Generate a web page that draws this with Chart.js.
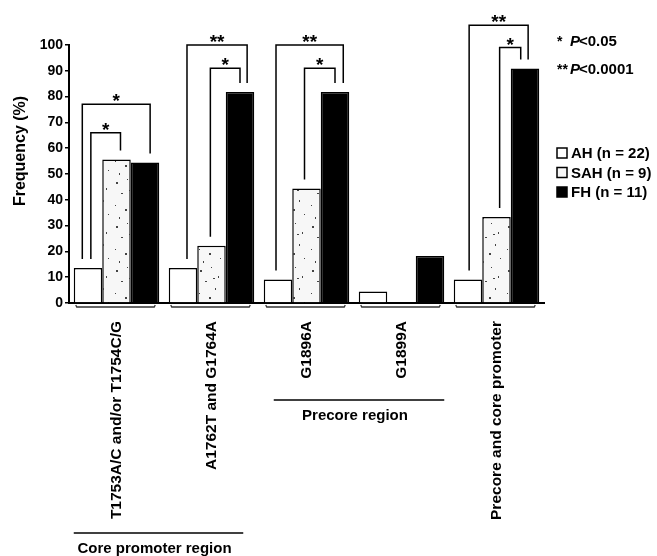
<!DOCTYPE html>
<html>
<head>
<meta charset="utf-8">
<title>Frequency of mutations</title>
<script src="https://cdn.jsdelivr.net/npm/chart.js@4.4.1/dist/chart.umd.min.js"></script>
<style>
  html, body { margin: 0; padding: 0; background: #fff; }
  #wrap { width: 657px; height: 556px; }
</style>
</head>
<body>
<div id="wrap"><canvas id="myChart" width="657" height="556"></canvas></div>
<script>
// data
var categories = ['T1753A/C and/or T1754C/G', 'A1762T and G1764A', 'G1896A', 'G1899A', 'Precore and core promoter'];
var seriesNames = ['AH (n = 22)', 'SAH (n = 9)', 'FH (n = 11)'];
var ahValues = [13.6, 13.6, 9.1, 4.5, 9.1];
var sahValues = [55.6, 22.2, 44.4, 0, 33.3];
var fhValues = [54.5, 81.8, 81.8, 18.2, 90.9];
var yTicks = [0, 10, 20, 30, 40, 50, 60, 70, 80, 90, 100];

// significance brackets: category, from series, to series, mark, height of the bracket
var compCategory = [0, 0, 1, 1, 2, 2, 4, 4];
var compFrom = [0, 0, 0, 1, 0, 1, 0, 1];
var compTo = [2, 1, 2, 2, 2, 2, 2, 2];
var compMark = ['*', '*', '**', '*', '**', '*', '**', '*'];
var compTop = [77, 66, 100, 91, 100, 91, 107.7, 99];

var pLabels = ['0.05', '0.0001'];
var pMarks = ['*', '**'];
var regionNames = ['Core promoter region', 'Precore region'];
var regionFirst = [0, 2];
var regionLast = [1, 3];

var FONT = "'Liberation Sans', Arial, sans-serif";

// speckled fill for SAH
function speckle() {
  var c = document.createElement('canvas');
  c.width = 28; c.height = 44;
  var g = c.getContext('2d');
  g.fillStyle = '#f7f7f7';
  g.fillRect(0, 0, 28, 44);
  g.fillStyle = '#444';
  var dots = [[4, 6], [15, 3], [22, 12], [9, 17], [19, 24], [3, 29], [13, 33], [24, 38], [7, 41], [17, 14]];
  dots.forEach(function (d, i) { g.fillRect(d[0], d[1], i % 3 === 0 ? 2 : 1, i % 2 === 0 ? 2 : 1); });
  return g.createPattern(c, 'repeat');
}
var sahFill = speckle();

// where the legs of each bracket sit inside the bars (fraction of bar width)
var legFromFrac = [0.3, 0.6, 0.64, 0.46, 0.43, 0.43, 0.54, 0.61];
var legToFrac = [0.68, 0.64, 0.75, 0.5, 0.79, 0.5, 0.61, 0.35];

var extras = {
  id: 'extras',
  afterDatasetsDraw: function (chart) {
    var ctx = chart.ctx;
    var y = chart.scales.y;
    var area = chart.chartArea;
    var bar = function (s, c) { return chart.getDatasetMeta(s).data[c].getProps(['x', 'y', 'width'], true); };
    ctx.save();
    ctx.strokeStyle = '#000';
    ctx.fillStyle = '#000';
    ctx.lineWidth = 1.5;

    // brackets
    for (var i = 0; i < compCategory.length; i++) {
      var c = compCategory[i];
      var a = bar(compFrom[i], c), b = bar(compTo[i], c);
      var xa = a.x - a.width / 2 + a.width * legFromFrac[i];
      var xb = b.x - b.width / 2 + b.width * legToFrac[i];
      var top = y.getPixelForValue(compTop[i]);
      ctx.beginPath();
      ctx.moveTo(xa, a.y - 9);
      ctx.lineTo(xa, top);
      ctx.lineTo(xb, top);
      ctx.lineTo(xb, b.y - 9);
      ctx.stroke();
      ctx.font = 'bold 19px ' + FONT;
      ctx.textAlign = 'center';
      ctx.textBaseline = 'alphabetic';
      ctx.fillText(compMark[i], (xa + xb) / 2, top + 3);
    }

    // thin underline below each group
    ctx.strokeStyle = '#333';
    ctx.lineWidth = 1.3;
    for (var k = 0; k < categories.length; k++) {
      var l = bar(0, k), r = bar(2, k);
      var x0 = l.x - l.width / 2 + 2, x1 = r.x + r.width / 2 - 4;
      var yy = area.bottom + 4;
      ctx.beginPath();
      ctx.moveTo(x0, yy - 2); ctx.lineTo(x0 + 1, yy); ctx.lineTo(x1 - 1, yy); ctx.lineTo(x1, yy - 2);
      ctx.stroke();
    }

    // region brackets
    var regionY = [533, 400];
    var regionInset = [[0, 11], [10, 0]];
    ctx.strokeStyle = '#000';
    ctx.lineWidth = 1.5;
    ctx.font = 'bold 15px ' + FONT;
    ctx.textAlign = 'center';
    ctx.textBaseline = 'middle';
    for (var m = 0; m < regionNames.length; m++) {
      var fl = bar(0, regionFirst[m]), lr = bar(2, regionLast[m]);
      var rx0 = fl.x - fl.width / 2 + regionInset[m][0];
      var rx1 = lr.x + lr.width / 2 - regionInset[m][1];
      ctx.beginPath();
      ctx.moveTo(rx0, regionY[m]); ctx.lineTo(rx1, regionY[m]);
      ctx.stroke();
      ctx.fillText(regionNames[m], (rx0 + rx1) / 2 - 4, regionY[m] + 16);
    }

    // y axis title
    ctx.save();
    ctx.translate(21, 151);
    ctx.rotate(-Math.PI / 2);
    ctx.font = 'bold 16px ' + FONT;
    ctx.fillText('Frequency (%)', 0, 0);
    ctx.restore();

    // p-value key
    ctx.textAlign = 'left';
    ctx.textBaseline = 'alphabetic';
    for (var p = 0; p < pLabels.length; p++) {
      var py = 46 + p * 28;
      ctx.font = 'bold 14px ' + FONT;
      ctx.fillText(pMarks[p], 557, py);
      ctx.font = 'italic bold 15px ' + FONT;
      ctx.fillText('P', 570, py);
      var w = ctx.measureText('P').width;
      ctx.font = 'bold 15px ' + FONT;
      ctx.fillText('<' + pLabels[p], 570 + w - 1, py);
    }

    // series key
    var fills = ['#fff', sahFill, '#000'];
    ctx.textBaseline = 'middle';
    for (var s = 0; s < seriesNames.length; s++) {
      var ky = 153 + s * 19.5;
      ctx.fillStyle = fills[s];
      ctx.fillRect(557, ky - 5, 10, 10);
      ctx.strokeStyle = '#000';
      ctx.lineWidth = 1.5;
      ctx.strokeRect(557, ky - 5, 10, 10);
      ctx.fillStyle = '#000';
      ctx.font = 'bold 15px ' + FONT;
      ctx.fillText(seriesNames[s], 571, ky + 1);
    }
    ctx.restore();
  }
};

var ctx = document.getElementById('myChart').getContext('2d');
var chart = new Chart(ctx, {
  type: 'bar',
  data: {
    labels: categories,
    datasets: [
      { label: seriesNames[0], data: ahValues, backgroundColor: '#fff', borderColor: '#000', borderWidth: 1.5 },
      { label: seriesNames[1], data: sahValues, backgroundColor: sahFill, borderColor: '#000', borderWidth: 1.5 },
      { label: seriesNames[2], data: fhValues, backgroundColor: '#000', borderColor: '#000', borderWidth: 1.5 }
    ]
  },
  options: {
    responsive: false,
    animation: false,
    devicePixelRatio: 1,
    layout: { padding: { top: 45, right: 113, left: 0, bottom: 0 } },
    datasets: { bar: { categoryPercentage: 0.9, barPercentage: 1, borderSkipped: 'bottom' } },
    plugins: { legend: { display: false }, tooltip: { enabled: false } },
    scales: {
      x: {
        grid: { display: false, drawTicks: false },
        border: { display: true, color: '#000', width: 2 },
        ticks: {
          color: '#000', autoSkip: false, minRotation: 90, maxRotation: 90, padding: 18,
          font: { family: FONT, weight: 'bold', size: 15.5 }
        },
        afterFit: function (s) { s.height = 253; }
      },
      y: {
        min: 0, max: 100,
        afterBuildTicks: function (s) { s.ticks = yTicks.map(function (v) { return { value: v }; }); },
        grid: { drawOnChartArea: false, drawTicks: true, tickLength: 4, color: '#000', lineWidth: 1.5 },
        border: { color: '#000', width: 2 },
        ticks: { color: '#000', padding: 2, font: { family: FONT, weight: 'bold', size: 14 } },
        afterFit: function (s) { s.width = 69; }
      }
    }
  },
  plugins: [extras]
});
</script>
</body>
</html>
